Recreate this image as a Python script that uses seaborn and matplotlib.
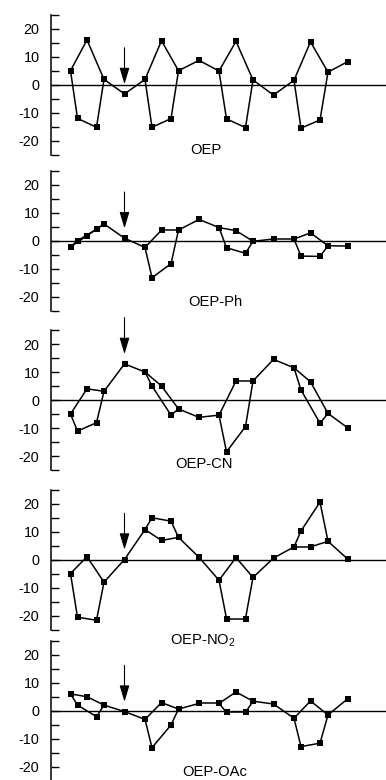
import matplotlib
matplotlib.use("Agg")
import matplotlib.pyplot as plt
import pandas as pd
import seaborn as sns

# positions of the 24 core atoms in the linear display
# (per pyrrole: Ca, Cb, N, Cb, Ca, then the meso carbon)
atom_pos = [0, 7, 16.5, 26, 33.5, 54,
            74.5, 81.5, 91, 100.5, 108, 128.5,
            148.5, 156, 165.5, 175, 182.5, 203,
            223.5, 230.5, 240, 249.5, 257.5, 277]

# out-of-plane displacements
oep = [5.1, -11.9, 16.1, -15.1, 2.0, -3.2,
       2.0, -15.1, 15.8, -12.0, 5.1, 8.8,
       5.0, -12.1, 15.6, -15.2, 1.8, -3.6,
       1.7, -15.4, 15.4, -12.5, 4.6, 8.3]
oep_ph = [-2.1, 0.1, 1.9, 4.2, 6.1, 1.0,
          -2.3, -13.1, 3.9, -8.1, 3.9, 7.7,
          4.8, -2.4, 3.7, -4.4, -0.1, 0.7,
          0.7, -5.4, 2.9, -5.5, -1.7, -1.8]
oep_cn = [-5.0, -11.1, 4.0, -8.1, 3.1, 12.9,
          10.0, 5.0, 5.0, -5.4, -3.2, -6.2,
          -5.4, -18.5, 6.8, -9.5, 6.8, 14.5,
          11.5, 3.6, 6.5, -8.3, -4.8, -9.9]
oep_no2 = [-5.0, -20.6, 1.0, -21.7, -8.1, 0.0,
           10.7, 14.9, 6.8, 13.7, 7.9, 0.8,
           -7.4, -21.1, 0.7, -21.1, -6.4, 0.5,
           4.5, 10.2, 4.5, 20.5, 6.5, 0.2]
oep_oac = [6.1, 2.1, 5.1, -2.0, 2.1, -0.2,
           -3.0, -13.1, 3.0, -5.0, 0.7, 2.7,
           2.7, -0.5, 6.8, -0.5, 3.5, 2.5,
           -2.6, -12.7, 3.6, -11.5, -1.4, 4.3]

names = ["OEP", "OEP-Ph", "OEP-CN", "OEP-NO$_2$", "OEP-OAc"]
series = [oep, oep_ph, oep_cn, oep_no2, oep_oac]

yticks = [-25, -20, -15, -10, -5, 0, 5, 10, 15, 20, 25]
ytick_labels = ["", "-20", "", "-10", "", "0", "", "10", "", "20", ""]

# bonds: each pyrrole is a pentagon, meso carbons link the pyrroles
bonds = []
for k in range(4):
    b = 6 * k
    bonds += [(b, b + 1), (b + 1, b + 3), (b + 3, b + 4), (b + 4, b + 2),
              (b + 2, b), (b + 4, b + 5)]
    if k < 3:
        bonds.append((b + 5, b + 6))

plt.rcParams["font.family"] = ["Liberation Sans", "DejaVu Sans"]
plt.rcParams["mathtext.default"] = "regular"
plt.rcParams["axes.unicode_minus"] = False

W, H = 386, 780
fig = plt.figure(figsize=(W / 100, H / 100), dpi=100)

zero_px = [85, 241, 400, 559.5, 711]
label_xy = [(135, -23.2), (145, -21.7), (134, -22.9), (132.5, -28.9), (144.5, -21.8)]
left_px = 50.5

for name, vals, z, lxy in zip(names, series, zero_px, label_xy):
    ax = fig.add_axes([left_px / W, 1 - (z + 70) / H, (W - left_px) / W, 140 / H])
    ax.patch.set_alpha(0)

    rows = []
    for i, (a, b) in enumerate(bonds):
        rows.append({"bond": i, "x": atom_pos[a], "y": vals[a]})
        rows.append({"bond": i, "x": atom_pos[b], "y": vals[b]})
    df = pd.DataFrame(rows)

    ax.axhline(0, color="black", lw=1.0, zorder=1)
    sns.lineplot(data=df, x="x", y="y", units="bond", estimator=None, sort=False,
                 color="black", lw=1.1, ax=ax, zorder=2)
    sns.scatterplot(x=atom_pos, y=vals, marker="s", color="black", s=16,
                    linewidth=0, ax=ax, zorder=3)

    # arrow pointing at the first meso carbon
    ax.annotate("", xy=(atom_pos[5], vals[5] + 3.5), xytext=(atom_pos[5], vals[5] + 16.5),
                arrowprops=dict(arrowstyle="-|>,head_length=1.0,head_width=0.3",
                                color="black", lw=0.8, mutation_scale=10,
                                shrinkA=0, shrinkB=0),
                annotation_clip=False)

    ax.text(lxy[0], lxy[1], name, ha="center", va="center", fontsize=10.6)

    ax.set_xlim(-20, W - left_px - 20)
    ax.set_ylim(-25, 25)
    ax.set_yticks(yticks)
    ax.set_yticklabels(ytick_labels)
    ax.tick_params(axis="y", direction="in", length=6, width=1.0, pad=8, labelsize=10.4)
    ax.set_xticks([])
    ax.set_xlabel("")
    ax.set_ylabel("")
    for side in ["top", "right", "bottom"]:
        ax.spines[side].set_visible(False)
    ax.spines["left"].set_linewidth(1.1)

fig.savefig("out.png", dpi=100)
